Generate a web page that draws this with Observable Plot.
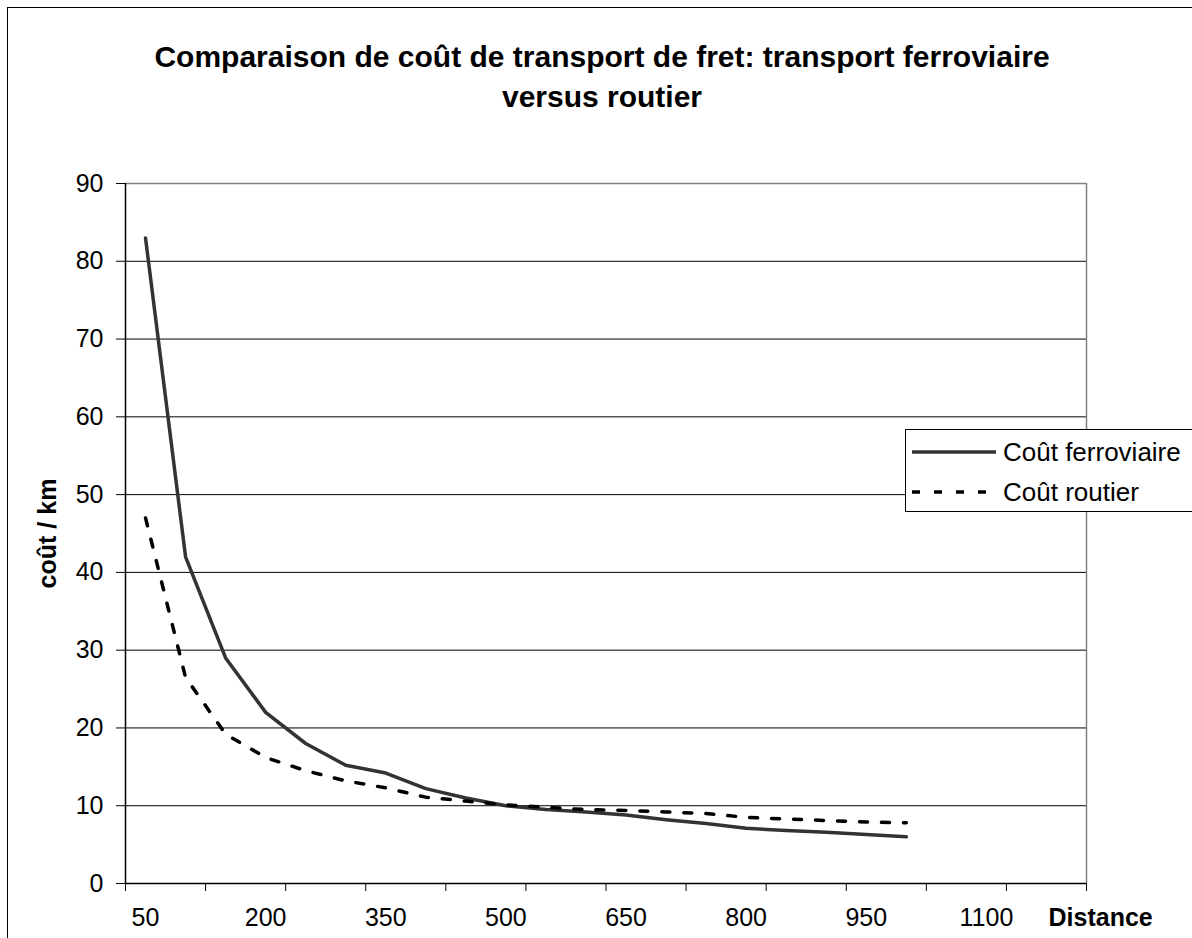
<!DOCTYPE html>
<html>
<head>
<meta charset="utf-8">
<script src="https://cdn.jsdelivr.net/npm/d3@7"></script>
<script src="https://cdn.jsdelivr.net/npm/@observablehq/plot@0.6"></script>
<style>
  html, body { margin: 0; padding: 0; background: #fff; color: #000; }
  #wrap { position: relative; width: 1192px; height: 938px; overflow: hidden; font-family: "Liberation Sans", Arial, sans-serif; }
  #frame { position: absolute; left: 7px; top: 7px; width: 1400px; height: 1200px; border: 1.5px solid #000; box-sizing: border-box; }
  #title { position: absolute; left: 12px; top: 37px; width: 1180px; text-align: center; font-weight: bold; font-size: 30px; line-height: 40px; }
  #chart { position: absolute; left: 0; top: 160px; }
  #legend { position: absolute; left: 905px; top: 429px; width: 320px; height: 83px; border: 1px solid #000; background: #fff; box-sizing: border-box; font-size: 26px; }
  #legend .sw { position: absolute; left: 6px; }
  #legend .lb { position: absolute; left: 97px; line-height: 30px; white-space: nowrap; }
</style>
</head>
<body>
<div id="wrap">
  <div id="frame"></div>
  <div id="title">Comparaison de coût de transport de fret: transport ferroviaire<br>versus routier</div>
  <div id="chart"></div>
  <div id="legend"></div>
</div>
<script>
// Categories of the x axis (distance, km)
const categories = [50,100,150,200,250,300,350,400,450,500,550,600,650,700,750,800,850,900,950,1000,1050,1100,1150,1200];
// Distances with data
const distances = [50,100,150,200,250,300,350,400,450,500,550,600,650,700,750,800,850,900,950,1000];
// Coût ferroviaire
const rail = [83,42,29,22,18,15.2,14.2,12.2,11,10,9.5,9.2,8.8,8.2,7.7,7.1,6.8,6.6,6.3,6.0];
// Coût routier
const road = [47,26.5,19.2,16.2,14.5,13.2,12.3,11.1,10.6,10.1,9.8,9.5,9.4,9.2,9.0,8.5,8.3,8.1,7.9,7.8];
// Axis tick labels
const xLabels = [50,200,350,500,650,800,950,1100];
const yTicks = [0,10,20,30,40,50,60,70,80,90];
const seriesNames = ["Coût ferroviaire", "Coût routier"];

const rows = distances.map((d, i) => ({distance: d, rail: rail[i], road: road[i]}));
const half = (categories[1] - categories[0]) / 2;
const xmin = categories[0] - half;
const xmax = categories[categories.length - 1] + half;
// tick marks between every second category
const xBoundaries = categories.filter((d, i) => i % 2 === 0).map(d => d - half).concat([xmax]);

const chart = Plot.plot({
  width: 1192,
  height: 778,
  marginTop: 23,
  marginRight: 106,
  marginBottom: 55,
  marginLeft: 125,
  style: {fontFamily: "'Liberation Sans', Arial, sans-serif", fontSize: "25px", color: "#000", background: "transparent", overflow: "visible"},
  x: {type: "linear", domain: [xmin, xmax]},
  y: {type: "linear", domain: [0, 90]},
  marks: [
    Plot.ruleY(yTicks.filter(d => d > 0 && d < 90), {stroke: "#000", strokeWidth: 1}),
    Plot.ruleY([90], {stroke: "#808080", strokeWidth: 1.5}),
    Plot.ruleX([xmax], {stroke: "#808080", strokeWidth: 1.5}),
    Plot.axisY({ticks: yTicks, tickSize: 9, tickPadding: 13, label: null, tickFormat: "d", fontSize: 25}),
    Plot.axisX({ticks: xBoundaries, tickSize: 8, tickFormat: () => "", label: null}),
    Plot.axisX({ticks: xLabels, tickSize: 0, tickPadding: 25, label: null, tickFormat: "d", fontSize: 25}),
    Plot.ruleX([xmin], {stroke: "#000", strokeWidth: 1.5}),
    Plot.ruleY([0], {stroke: "#000", strokeWidth: 1.5}),
    Plot.line(rows, {x: "distance", y: "rail", stroke: "#333", strokeWidth: 3.5, strokeLinejoin: "round"}),
    Plot.line(rows, {x: "distance", y: "road", stroke: "#000", strokeWidth: 3.5, strokeDasharray: "8,14"}),
    Plot.text(["coût / km"], {text: d => d, frameAnchor: "left", dx: -78, rotate: -90, textAnchor: "middle", lineAnchor: "middle", fontWeight: "bold", fontSize: 25}),
    Plot.text(["Distance"], {text: d => d, frameAnchor: "bottom-right", dx: -38, dy: 34, textAnchor: "start", lineAnchor: "middle", fontWeight: "bold", fontSize: 25})
  ]
});
document.getElementById("chart").appendChild(chart);

// Legend
const legend = document.getElementById("legend");
const styles = [
  {stroke: "#333", dash: null, top: 22},
  {stroke: "#000", dash: "8,14", top: 62}
];
seriesNames.forEach((name, i) => {
  const s = styles[i];
  const svg = d3.create("svg").attr("class", "sw").attr("width", 84).attr("height", 8)
    .style("top", (s.top - 4) + "px");
  svg.append("line").attr("x1", 0).attr("x2", 84).attr("y1", 4).attr("y2", 4)
    .attr("stroke", s.stroke).attr("stroke-width", 3.5)
    .attr("stroke-dasharray", s.dash);
  legend.appendChild(svg.node());
  const lb = document.createElement("div");
  lb.className = "lb";
  lb.style.top = (s.top - 15) + "px";
  lb.textContent = name;
  legend.appendChild(lb);
});
</script>
</body>
</html>
